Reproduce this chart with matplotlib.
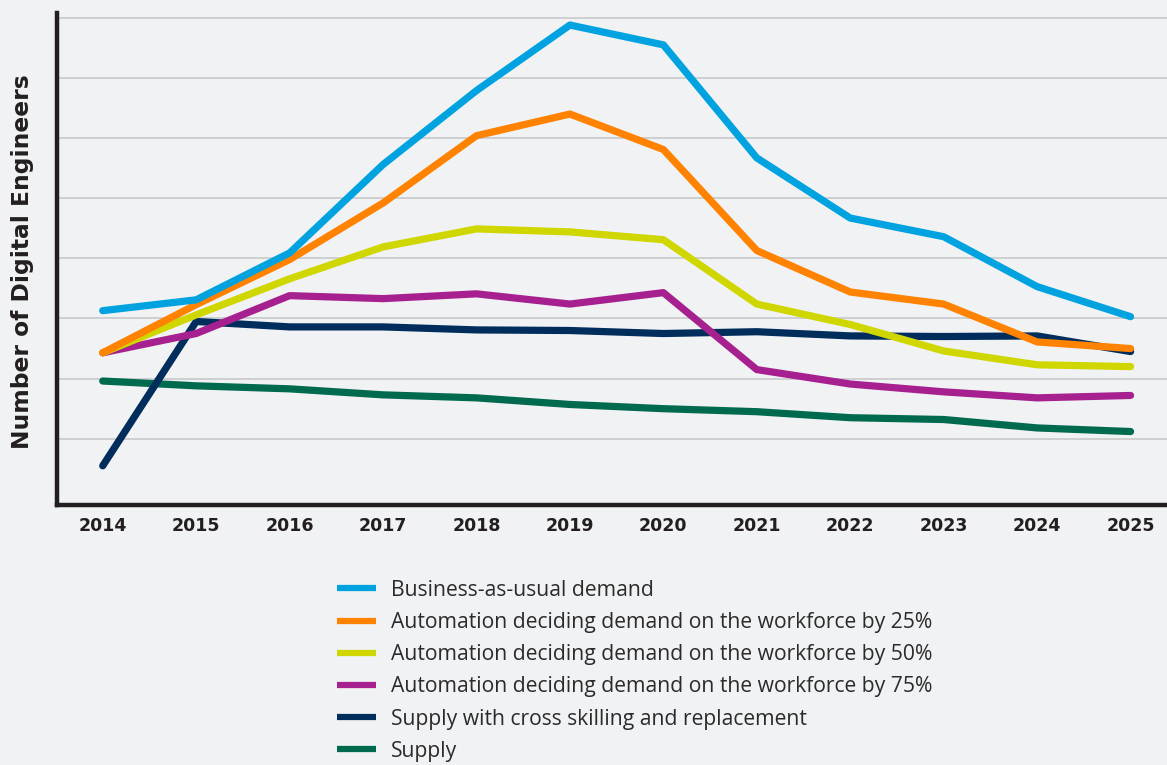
import matplotlib
matplotlib.use("Agg")
import matplotlib.pyplot as plt
from matplotlib.lines import Line2D

years = [2014, 2015, 2016, 2017, 2018, 2019, 2020, 2021, 2022, 2023, 2024, 2025]

# values (arbitrary units, gridlines every 100)
business_as_usual = [213, 231, 309, 456, 579, 688, 655, 467, 367, 336, 253, 203]
automation_25 = [143, 223, 298, 392, 504, 540, 481, 313, 244, 224, 161, 150]
automation_50 = [143, 206, 266, 319, 349, 344, 331, 224, 190, 146, 123, 120]
automation_75 = [143, 175, 238, 233, 241, 224, 243, 115, 91, 78, 68, 72]
supply_cross = [-45, 195, 186, 186, 181, 180, 175, 178, 171, 170, 171, 145]
supply = [96, 88, 83, 73, 68, 57, 50, 45, 35, 32, 18, 12]

labels = [
    "Business-as-usual demand",
    "Automation deciding demand on the workforce by 25%",
    "Automation deciding demand on the workforce by 50%",
    "Automation deciding demand on the workforce by 75%",
    "Supply with cross skilling and replacement",
    "Supply",
]
colors = ["#00a3e0", "#ff8200", "#cfd600", "#a6218f", "#002d5c", "#006a4e"]
series = [business_as_usual, automation_25, automation_50, automation_75, supply_cross, supply]

bg = "#f1f2f4"
fig = plt.figure(figsize=(11.67, 7.65), dpi=100, facecolor=bg)
ax = fig.add_axes([0.0488, 0.340, 0.9512, 0.643], facecolor=bg)

# draw in reverse so the demand lines sit on top
for vals, col in reversed(list(zip(series, colors))):
    ax.plot(years, vals, color=col, lw=5.2, solid_capstyle="round",
            solid_joinstyle="round")

ax.set_xlim(2013.51, 2025.39)
ax.set_ylim(-110, 708)
ax.set_xticks(years)
ax.set_xticklabels([str(y) for y in years], fontweight="bold", fontsize=12.5,
                   color="#231f20")
ax.set_yticks(range(0, 800, 100))
ax.set_yticklabels([])
ax.tick_params(length=0, pad=9)
ax.grid(axis="y", color="#c8c9cb", lw=1.2)
ax.set_axisbelow(True)

for s in ["top", "right"]:
    ax.spines[s].set_visible(False)
for s in ["left", "bottom"]:
    ax.spines[s].set_color("#231f20")
    ax.spines[s].set_linewidth(3.2)

ax.set_ylabel("Number of Digital Engineers", fontsize=16.8, fontweight="bold",
              color="#231f20")
ax.yaxis.set_label_coords(-0.0205, 0.495)

handles = [Line2D([], [], color=c, lw=4.5, solid_capstyle="butt") for c in colors]
leg = fig.legend(handles, labels, loc="upper left",
                 bbox_to_anchor=(0.289, 0.242), frameon=False,
                 prop={"family": "Open Sans", "size": 15.2},
                 handlelength=1.85, handletextpad=0.7,
                 labelspacing=0.53, borderaxespad=0, borderpad=0)
for t in leg.get_texts():
    t.set_color("#2b2b2b")

fig.savefig("out.png", dpi=100, facecolor=bg)
